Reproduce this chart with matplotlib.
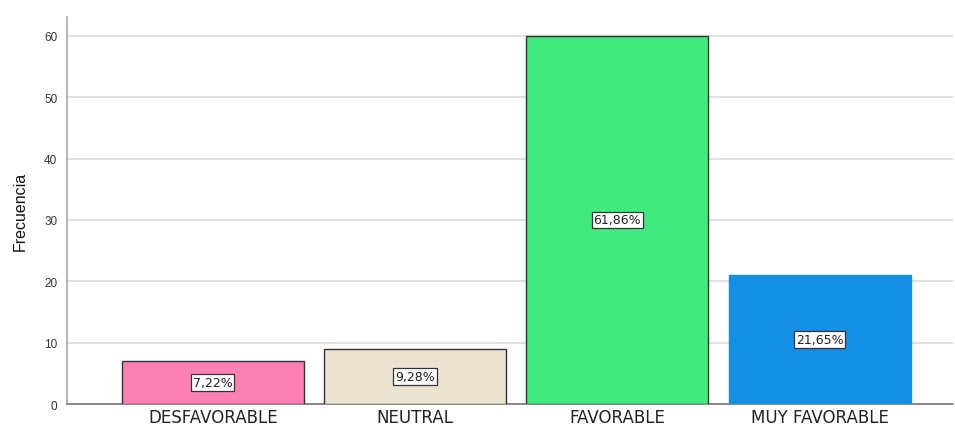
import matplotlib.pyplot as plt

plt.rcParams['font.family'] = ['Liberation Sans', 'DejaVu Sans']

categorias = ["DESFAVORABLE", "NEUTRAL", "FAVORABLE", "MUY FAVORABLE"]
frecuencias = [7, 9, 60, 21]
porcentajes = ["7,22%", "9,28%", "61,86%", "21,65%"]
colores = ["#fc80b2", "#ebe3cf", "#41ea7f", "#138fe6"]
bordes = ["#333333", "#333333", "#333333", "#138fe6"]

fig = plt.figure(figsize=(9.55, 4.27), dpi=100)
ax = fig.add_axes([0.0702, 0.0515, 0.928, 0.907])

x = list(range(len(categorias)))
barras = ax.bar(x, frecuencias, width=0.9, color=colores, edgecolor=bordes,
                linewidth=1.0, zorder=3)

# etiqueta de porcentaje en el centro de cada barra
for b, txt in zip(barras, porcentajes):
    ax.text(b.get_x() + b.get_width() / 2, b.get_height() / 2, txt,
            ha='center', va='center', fontsize=9, color='#222222', zorder=4,
            family=['DejaVu Sans'],
            bbox=dict(boxstyle='square,pad=0.15', fc='white', ec='#333333', lw=0.9))

ax.set_xlim(-0.72, 3.66)
ax.set_ylim(0, 63.1)
ax.set_yticks([0, 10, 20, 30, 40, 50, 60])
ax.set_xticks(x)
ax.set_xticklabels(categorias, fontsize=12, color='#222222', family=['DejaVu Sans'])
ax.tick_params(axis='y', labelsize=8.5, colors='#333333', length=0, pad=7)
ax.tick_params(axis='x', length=0, pad=3)

ax.grid(axis='y', color='#d9d9d9', linewidth=1.1, zorder=0)
ax.set_axisbelow(True)

for lado in ['top', 'right']:
    ax.spines[lado].set_visible(False)
ax.spines['left'].set_color('#aaaaaa')
ax.spines['left'].set_linewidth(1.2)
ax.spines['bottom'].set_color('#777777')
ax.spines['bottom'].set_linewidth(1.2)

ax.set_ylabel("Frecuencia", fontsize=11.5, color='#111111', labelpad=12)

fig.savefig("out.png", dpi=100)
